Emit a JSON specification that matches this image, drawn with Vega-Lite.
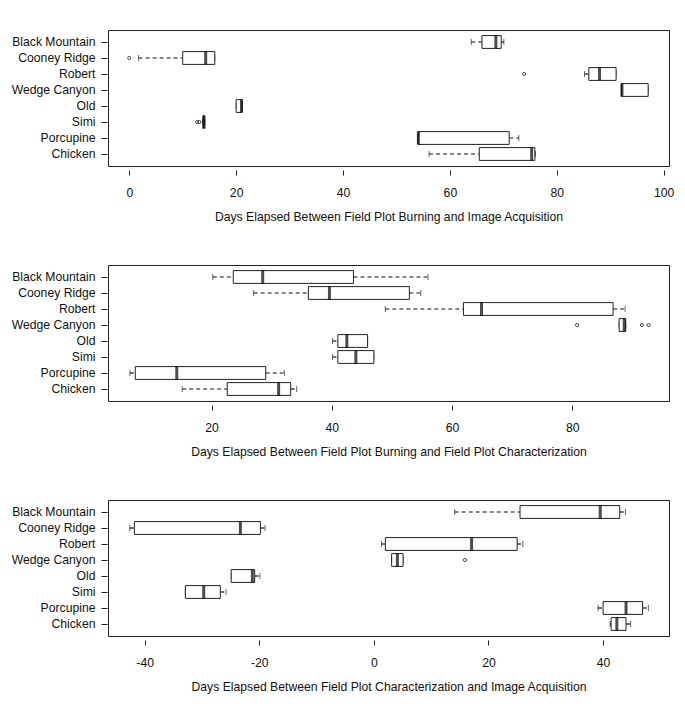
{
  "$schema": "https://vega.github.io/schema/vega-lite/v6.json",
  "background": "white",
  "padding": {"left": 10, "top": 29, "right": 15, "bottom": 5},
  "spacing": 99,
  "bounds": "flush",
  "datasets": {
    "stats": [
      {"p": 1, "fire": "Black Mountain", "lo": 64.0, "q1": 66.0, "med": 68.6, "q3": 69.6, "hi": 70.1},
      {"p": 1, "fire": "Cooney Ridge", "lo": 1.75, "q1": 10.0, "med": 14.3, "q3": 16.0, "hi": 16.0},
      {"p": 1, "fire": "Robert", "lo": 85.2, "q1": 86.0, "med": 88.0, "q3": 91.1, "hi": 91.1},
      {"p": 1, "fire": "Wedge Canyon", "lo": 92.1, "q1": 92.1, "med": 92.2, "q3": 97.1, "hi": 97.1},
      {"p": 1, "fire": "Old", "lo": 20.0, "q1": 20.0, "med": 21.0, "q3": 21.1, "hi": 21.1},
      {"p": 1, "fire": "Simi", "lo": 13.7, "q1": 13.8, "med": 14.0, "q3": 14.0, "hi": 14.1},
      {"p": 1, "fire": "Porcupine", "lo": 54.05, "q1": 54.05, "med": 54.1, "q3": 71.1, "hi": 72.9},
      {"p": 1, "fire": "Chicken", "lo": 56.1, "q1": 65.5, "med": 75.3, "q3": 75.9, "hi": 76.0},
      {"p": 2, "fire": "Black Mountain", "lo": 20.2, "q1": 23.6, "med": 28.5, "q3": 43.6, "hi": 56.0},
      {"p": 2, "fire": "Cooney Ridge", "lo": 27.0, "q1": 36.1, "med": 39.6, "q3": 52.9, "hi": 54.8},
      {"p": 2, "fire": "Robert", "lo": 48.9, "q1": 61.9, "med": 64.9, "q3": 86.8, "hi": 88.8},
      {"p": 2, "fire": "Wedge Canyon", "lo": 87.8, "q1": 87.8, "med": 88.65, "q3": 88.9, "hi": 88.9},
      {"p": 2, "fire": "Old", "lo": 40.1, "q1": 41.0, "med": 42.5, "q3": 45.95, "hi": 45.95},
      {"p": 2, "fire": "Simi", "lo": 40.1, "q1": 41.0, "med": 44.0, "q3": 47.0, "hi": 47.0},
      {"p": 2, "fire": "Porcupine", "lo": 6.4, "q1": 7.3, "med": 14.2, "q3": 29.0, "hi": 32.1},
      {"p": 2, "fire": "Chicken", "lo": 15.1, "q1": 22.6, "med": 31.15, "q3": 33.15, "hi": 34.15},
      {"p": 3, "fire": "Black Mountain", "lo": 14.1, "q1": 25.5, "med": 39.5, "q3": 42.9, "hi": 43.9},
      {"p": 3, "fire": "Cooney Ridge", "lo": -42.6, "q1": -41.8, "med": -23.3, "q3": -19.8, "hi": -19.0},
      {"p": 3, "fire": "Robert", "lo": 1.3, "q1": 2.0, "med": 17.05, "q3": 25.0, "hi": 26.0},
      {"p": 3, "fire": "Wedge Canyon", "lo": 3.1, "q1": 3.1, "med": 4.1, "q3": 5.1, "hi": 5.1},
      {"p": 3, "fire": "Old", "lo": -24.9, "q1": -24.9, "med": -21.2, "q3": -20.8, "hi": -19.9},
      {"p": 3, "fire": "Simi", "lo": -32.9, "q1": -32.9, "med": -29.7, "q3": -26.8, "hi": -25.8},
      {"p": 3, "fire": "Porcupine", "lo": 39.1, "q1": 40.0, "med": 44.0, "q3": 46.9, "hi": 47.9},
      {"p": 3, "fire": "Chicken", "lo": 41.2, "q1": 41.4, "med": 42.4, "q3": 44.0, "hi": 44.8}
    ],
    "out": [
      {"p": 1, "fire": "Cooney Ridge", "v": 0.0},
      {"p": 1, "fire": "Robert", "v": 73.9},
      {"p": 1, "fire": "Simi", "v": 12.7},
      {"p": 1, "fire": "Simi", "v": 13.1},
      {"p": 2, "fire": "Wedge Canyon", "v": 80.8},
      {"p": 2, "fire": "Wedge Canyon", "v": 91.6},
      {"p": 2, "fire": "Wedge Canyon", "v": 92.7},
      {"p": 3, "fire": "Wedge Canyon", "v": 15.9}
    ]
  },
  "config": {
    "font": "Liberation Sans",
    "view": {"stroke": "#222", "strokeWidth": 1},
    "axis": {"grid": false, "domain": false, "labelFont": "Liberation Sans", "titleFont": "Liberation Sans", "labelFontSize": 12.2, "titleFontSize": 12.2, "labelColor": "#111", "titleColor": "#111", "tickColor": "#222", "titleFontWeight": "normal"},
    "axisX": {"offset": 4, "tickSize": 5, "labelPadding": 11, "titlePadding": 12, "labelExpr": "'' + datum.value"},
    "axisY": {"offset": 1, "tickSize": 6, "labelPadding": 6, "title": null, "bandPosition": 0.5}
  },
  "vconcat": [
    {
      "width": 561, "height": 136,
      "encoding": {
        "y": {"field": "fire", "type": "nominal", "sort": ["Black Mountain", "Cooney Ridge", "Robert", "Wedge Canyon", "Old", "Simi", "Porcupine", "Chicken"], "scale": {"paddingInner": 0.2, "paddingOuter": 0.35}, "axis": {"title": null}}
      },
      "layer": [
        {"data": {"name": "stats"}, "transform": [{"filter": "datum.p == 1"}], "mark": {"type": "rule", "color": "#111", "strokeDash": [4, 3], "strokeWidth": 1.2},
         "encoding": {"x": {"field": "lo", "type": "quantitative", "title": "Days Elapsed Between Field Plot Burning and Image Acquisition", "scale": {"domain": [-3.98, 101], "nice": false, "zero": false}, "axis": {"values": [0, 20, 40, 60, 80, 100]}}, "x2": {"field": "q1"}}},
        {"data": {"name": "stats"}, "transform": [{"filter": "datum.p == 1"}], "mark": {"type": "rule", "color": "#111", "strokeDash": [4, 3], "strokeWidth": 1.2},
         "encoding": {"x": {"field": "q3", "type": "quantitative", "title": "Days Elapsed Between Field Plot Burning and Image Acquisition", "scale": {"domain": [-3.98, 101], "nice": false, "zero": false}, "axis": {"values": [0, 20, 40, 60, 80, 100]}}, "x2": {"field": "hi"}}},
        {"data": {"name": "stats"}, "transform": [{"filter": "datum.p == 1"}], "mark": {"type": "tick", "color": "#222", "size": 6, "thickness": 1},
         "encoding": {"x": {"field": "lo", "type": "quantitative", "title": "Days Elapsed Between Field Plot Burning and Image Acquisition", "scale": {"domain": [-3.98, 101], "nice": false, "zero": false}, "axis": {"values": [0, 20, 40, 60, 80, 100]}}}},
        {"data": {"name": "stats"}, "transform": [{"filter": "datum.p == 1"}], "mark": {"type": "tick", "color": "#222", "size": 6, "thickness": 1},
         "encoding": {"x": {"field": "hi", "type": "quantitative", "title": "Days Elapsed Between Field Plot Burning and Image Acquisition", "scale": {"domain": [-3.98, 101], "nice": false, "zero": false}, "axis": {"values": [0, 20, 40, 60, 80, 100]}}}},
        {"data": {"name": "stats"}, "transform": [{"filter": "datum.p == 1"}], "mark": {"type": "bar", "fill": "white", "stroke": "#222", "strokeWidth": 1},
         "encoding": {"x": {"field": "q1", "type": "quantitative", "title": "Days Elapsed Between Field Plot Burning and Image Acquisition", "scale": {"domain": [-3.98, 101], "nice": false, "zero": false}, "axis": {"values": [0, 20, 40, 60, 80, 100]}}, "x2": {"field": "q3"}}},
        {"data": {"name": "stats"}, "transform": [{"filter": "datum.p == 1"}], "mark": {"type": "tick", "color": "#000", "size": 13, "thickness": 3},
         "encoding": {"x": {"field": "med", "type": "quantitative", "title": "Days Elapsed Between Field Plot Burning and Image Acquisition", "scale": {"domain": [-3.98, 101], "nice": false, "zero": false}, "axis": {"values": [0, 20, 40, 60, 80, 100]}}}},
        {"data": {"name": "out"}, "transform": [{"filter": "datum.p == 1"}], "mark": {"type": "point", "shape": "circle", "filled": false, "stroke": "#222", "strokeWidth": 0.8, "size": 10, "opacity": 1},
         "encoding": {"x": {"field": "v", "type": "quantitative", "title": "Days Elapsed Between Field Plot Burning and Image Acquisition", "scale": {"domain": [-3.98, 101], "nice": false, "zero": false}, "axis": {"values": [0, 20, 40, 60, 80, 100]}}}}
      ]
    },
    {
      "width": 561, "height": 136,
      "encoding": {
        "y": {"field": "fire", "type": "nominal", "sort": ["Black Mountain", "Cooney Ridge", "Robert", "Wedge Canyon", "Old", "Simi", "Porcupine", "Chicken"], "scale": {"paddingInner": 0.2, "paddingOuter": 0.35}, "axis": {"title": null}}
      },
      "layer": [
        {"data": {"name": "stats"}, "transform": [{"filter": "datum.p == 2"}], "mark": {"type": "rule", "color": "#111", "strokeDash": [4, 3], "strokeWidth": 1.2},
         "encoding": {"x": {"field": "lo", "type": "quantitative", "title": "Days Elapsed Between Field Plot Burning and Field Plot Characterization", "scale": {"domain": [2.76, 96.1], "nice": false, "zero": false}, "axis": {"values": [20, 40, 60, 80]}}, "x2": {"field": "q1"}}},
        {"data": {"name": "stats"}, "transform": [{"filter": "datum.p == 2"}], "mark": {"type": "rule", "color": "#111", "strokeDash": [4, 3], "strokeWidth": 1.2},
         "encoding": {"x": {"field": "q3", "type": "quantitative", "title": "Days Elapsed Between Field Plot Burning and Field Plot Characterization", "scale": {"domain": [2.76, 96.1], "nice": false, "zero": false}, "axis": {"values": [20, 40, 60, 80]}}, "x2": {"field": "hi"}}},
        {"data": {"name": "stats"}, "transform": [{"filter": "datum.p == 2"}], "mark": {"type": "tick", "color": "#222", "size": 6, "thickness": 1},
         "encoding": {"x": {"field": "lo", "type": "quantitative", "title": "Days Elapsed Between Field Plot Burning and Field Plot Characterization", "scale": {"domain": [2.76, 96.1], "nice": false, "zero": false}, "axis": {"values": [20, 40, 60, 80]}}}},
        {"data": {"name": "stats"}, "transform": [{"filter": "datum.p == 2"}], "mark": {"type": "tick", "color": "#222", "size": 6, "thickness": 1},
         "encoding": {"x": {"field": "hi", "type": "quantitative", "title": "Days Elapsed Between Field Plot Burning and Field Plot Characterization", "scale": {"domain": [2.76, 96.1], "nice": false, "zero": false}, "axis": {"values": [20, 40, 60, 80]}}}},
        {"data": {"name": "stats"}, "transform": [{"filter": "datum.p == 2"}], "mark": {"type": "bar", "fill": "white", "stroke": "#222", "strokeWidth": 1},
         "encoding": {"x": {"field": "q1", "type": "quantitative", "title": "Days Elapsed Between Field Plot Burning and Field Plot Characterization", "scale": {"domain": [2.76, 96.1], "nice": false, "zero": false}, "axis": {"values": [20, 40, 60, 80]}}, "x2": {"field": "q3"}}},
        {"data": {"name": "stats"}, "transform": [{"filter": "datum.p == 2"}], "mark": {"type": "tick", "color": "#000", "size": 13, "thickness": 3},
         "encoding": {"x": {"field": "med", "type": "quantitative", "title": "Days Elapsed Between Field Plot Burning and Field Plot Characterization", "scale": {"domain": [2.76, 96.1], "nice": false, "zero": false}, "axis": {"values": [20, 40, 60, 80]}}}},
        {"data": {"name": "out"}, "transform": [{"filter": "datum.p == 2"}], "mark": {"type": "point", "shape": "circle", "filled": false, "stroke": "#222", "strokeWidth": 0.8, "size": 10, "opacity": 1},
         "encoding": {"x": {"field": "v", "type": "quantitative", "title": "Days Elapsed Between Field Plot Burning and Field Plot Characterization", "scale": {"domain": [2.76, 96.1], "nice": false, "zero": false}, "axis": {"values": [20, 40, 60, 80]}}}}
      ]
    },
    {
      "width": 561, "height": 136,
      "encoding": {
        "y": {"field": "fire", "type": "nominal", "sort": ["Black Mountain", "Cooney Ridge", "Robert", "Wedge Canyon", "Old", "Simi", "Porcupine", "Chicken"], "scale": {"paddingInner": 0.2, "paddingOuter": 0.35}, "axis": {"title": null}}
      },
      "layer": [
        {"data": {"name": "stats"}, "transform": [{"filter": "datum.p == 3"}], "mark": {"type": "rule", "color": "#111", "strokeDash": [4, 3], "strokeWidth": 1.2},
         "encoding": {"x": {"field": "lo", "type": "quantitative", "title": "Days Elapsed Between Field Plot Characterization and Image Acquisition", "scale": {"domain": [-46.4, 51.5], "nice": false, "zero": false}, "axis": {"values": [-40, -20, 0, 20, 40]}}, "x2": {"field": "q1"}}},
        {"data": {"name": "stats"}, "transform": [{"filter": "datum.p == 3"}], "mark": {"type": "rule", "color": "#111", "strokeDash": [4, 3], "strokeWidth": 1.2},
         "encoding": {"x": {"field": "q3", "type": "quantitative", "title": "Days Elapsed Between Field Plot Characterization and Image Acquisition", "scale": {"domain": [-46.4, 51.5], "nice": false, "zero": false}, "axis": {"values": [-40, -20, 0, 20, 40]}}, "x2": {"field": "hi"}}},
        {"data": {"name": "stats"}, "transform": [{"filter": "datum.p == 3"}], "mark": {"type": "tick", "color": "#222", "size": 6, "thickness": 1},
         "encoding": {"x": {"field": "lo", "type": "quantitative", "title": "Days Elapsed Between Field Plot Characterization and Image Acquisition", "scale": {"domain": [-46.4, 51.5], "nice": false, "zero": false}, "axis": {"values": [-40, -20, 0, 20, 40]}}}},
        {"data": {"name": "stats"}, "transform": [{"filter": "datum.p == 3"}], "mark": {"type": "tick", "color": "#222", "size": 6, "thickness": 1},
         "encoding": {"x": {"field": "hi", "type": "quantitative", "title": "Days Elapsed Between Field Plot Characterization and Image Acquisition", "scale": {"domain": [-46.4, 51.5], "nice": false, "zero": false}, "axis": {"values": [-40, -20, 0, 20, 40]}}}},
        {"data": {"name": "stats"}, "transform": [{"filter": "datum.p == 3"}], "mark": {"type": "bar", "fill": "white", "stroke": "#222", "strokeWidth": 1},
         "encoding": {"x": {"field": "q1", "type": "quantitative", "title": "Days Elapsed Between Field Plot Characterization and Image Acquisition", "scale": {"domain": [-46.4, 51.5], "nice": false, "zero": false}, "axis": {"values": [-40, -20, 0, 20, 40]}}, "x2": {"field": "q3"}}},
        {"data": {"name": "stats"}, "transform": [{"filter": "datum.p == 3"}], "mark": {"type": "tick", "color": "#000", "size": 13, "thickness": 3},
         "encoding": {"x": {"field": "med", "type": "quantitative", "title": "Days Elapsed Between Field Plot Characterization and Image Acquisition", "scale": {"domain": [-46.4, 51.5], "nice": false, "zero": false}, "axis": {"values": [-40, -20, 0, 20, 40]}}}},
        {"data": {"name": "out"}, "transform": [{"filter": "datum.p == 3"}], "mark": {"type": "point", "shape": "circle", "filled": false, "stroke": "#222", "strokeWidth": 0.8, "size": 10, "opacity": 1},
         "encoding": {"x": {"field": "v", "type": "quantitative", "title": "Days Elapsed Between Field Plot Characterization and Image Acquisition", "scale": {"domain": [-46.4, 51.5], "nice": false, "zero": false}, "axis": {"values": [-40, -20, 0, 20, 40]}}}}
      ]
    }
  ]
}
